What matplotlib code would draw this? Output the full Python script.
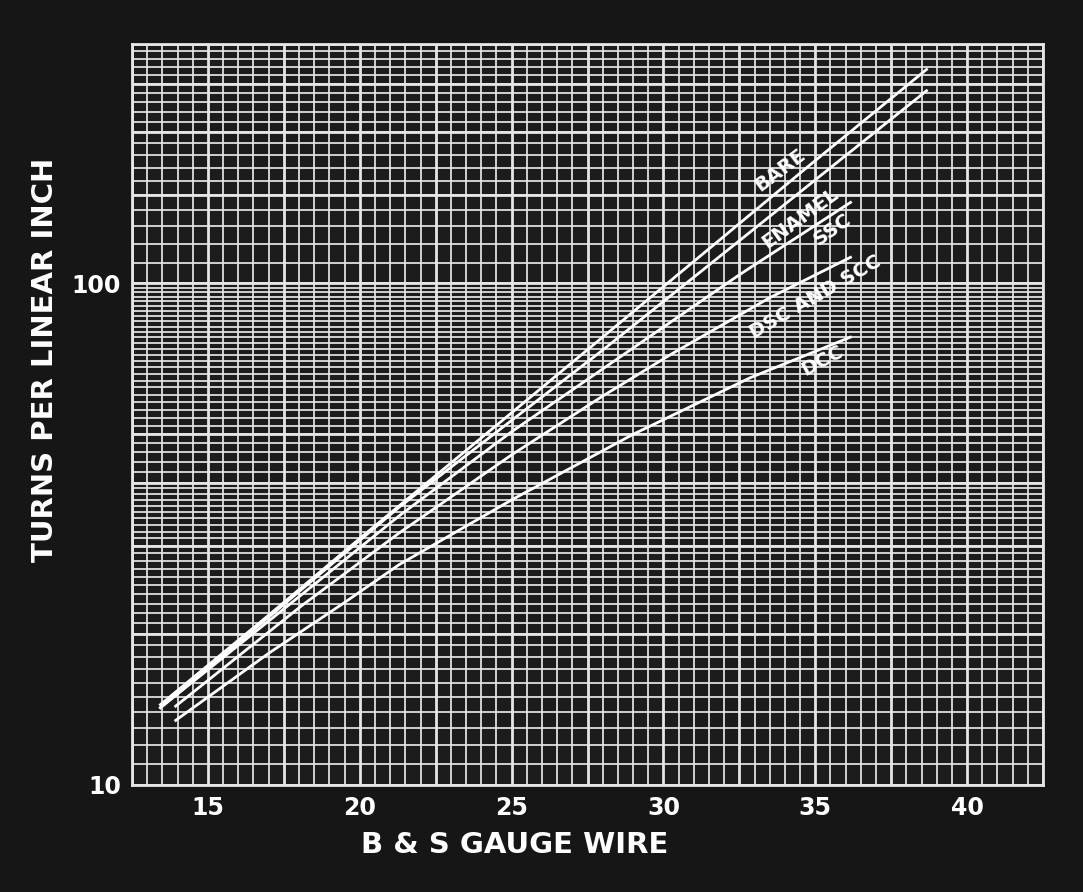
import numpy as np
import matplotlib
matplotlib.use("Agg")
import matplotlib.pyplot as plt

# readings: (gauge, turns per inch)
bare_gauge = [13.4, 17.0, 20.0, 25.0, 30.0, 35.0, 38.7]
bare_tpi = [14.4, 21.8, 31.0, 55.2, 98.5, 175.7, 268.0]

enamel_gauge = [13.4, 17.0, 21.3, 25.0, 28.0, 32.0, 35.5, 38.7]
enamel_tpi = [14.2, 21.6, 35.8, 53.3, 73.6, 115.0, 170.0, 243.0]

ssc_gauge = [13.4, 17.8, 21.3, 25.0, 28.9, 32.5, 36.2]
ssc_tpi = [14.2, 23.2, 34.4, 50.6, 73.6, 104.0, 145.5]

dsc_gauge = [13.9, 18.1, 21.3, 25.0, 28.0, 30.3, 33.5, 36.2]
dsc_tpi = [14.3, 22.8, 31.8, 45.5, 59.6, 72.5, 93.6, 113.0]

dcc_gauge = [13.9, 17.0, 19.45, 21.3, 25.0, 29.0, 32.85, 36.2]
dcc_tpi = [13.4, 18.3, 23.0, 27.5, 37.0, 50.0, 64.8, 78.3]

curve_names = ["BARE", "ENAMEL", "SSC", "DSC AND SCC", "DCC"]
label_pos = [(33.85, 168), (34.5, 135), (35.55, 128), (35.0, 94), (35.25, 70)]
label_rot = [37, 36, 35, 30, 28]

x_ticks = [15, 20, 25, 30, 35, 40]
y_ticks = [10, 100]

BG = "#161616"
FG = "#e6e6e6"

fig = plt.figure(figsize=(10.83, 8.92), dpi=100)
fig.patch.set_facecolor(BG)
ax = fig.add_axes([0.1219, 0.12, 0.8412, 0.8307])
ax.set_facecolor("#1c1c1c")
ax.set_yscale("log")
ax.set_xlim(12.5, 42.5)
ax.set_ylim(10, 300)

# graph paper
for g in np.arange(12.5, 42.51, 0.5):
    heavy = abs((g - 12.5) / 2.5 - round((g - 12.5) / 2.5)) < 1e-6
    ax.axvline(g, color=FG, lw=2.0 if heavy else 1.25, zorder=1)
y_minor = list(np.arange(10, 40, 1)) + list(np.arange(40, 100, 2)) + list(np.arange(100, 301, 10))
y_heavy = [10, 20, 30, 40, 50, 100, 150, 200, 250, 300]
for v in y_minor:
    ax.axhline(v, color=FG, lw=1.25, zorder=1)
for v in y_heavy:
    ax.axhline(v, color=FG, lw=2.0, zorder=1)

curves = [(bare_gauge, bare_tpi), (enamel_gauge, enamel_tpi), (ssc_gauge, ssc_tpi),
          (dsc_gauge, dsc_tpi), (dcc_gauge, dcc_tpi)]
for (gx, ty) in curves:
    ax.plot(gx, ty, color="white", lw=2.0, solid_capstyle="butt",
            solid_joinstyle="round", zorder=3)

for name, (lx, ly), rot in zip(curve_names, label_pos, label_rot):
    ax.text(lx, ly, name, color="white", fontsize=14, fontweight="bold",
            rotation=rot, rotation_mode="anchor", ha="center", va="center", zorder=4)

ax.set_xticks(x_ticks)
ax.set_xticklabels([str(t) for t in x_ticks])
ax.set_yticks(y_ticks)
ax.set_yticklabels([str(t) for t in y_ticks])
ax.yaxis.set_minor_locator(matplotlib.ticker.NullLocator())
ax.tick_params(length=0, colors="white", labelsize=17, pad=8)
for lab in ax.get_xticklabels() + ax.get_yticklabels():
    lab.set_fontweight("bold")
for s in ax.spines.values():
    s.set_color(FG)
    s.set_linewidth(2)

fig.text(515 / 1083, 1 - 845 / 892, "B & S GAUGE WIRE", color="white", fontsize=21,
         fontweight="bold", ha="center", va="center")
fig.text(45 / 1083, 1 - 360 / 892, "TURNS PER LINEAR INCH", color="white", fontsize=21,
         fontweight="bold", ha="center", va="center", rotation=90)

fig.savefig("out.png", dpi=100, facecolor=BG)
